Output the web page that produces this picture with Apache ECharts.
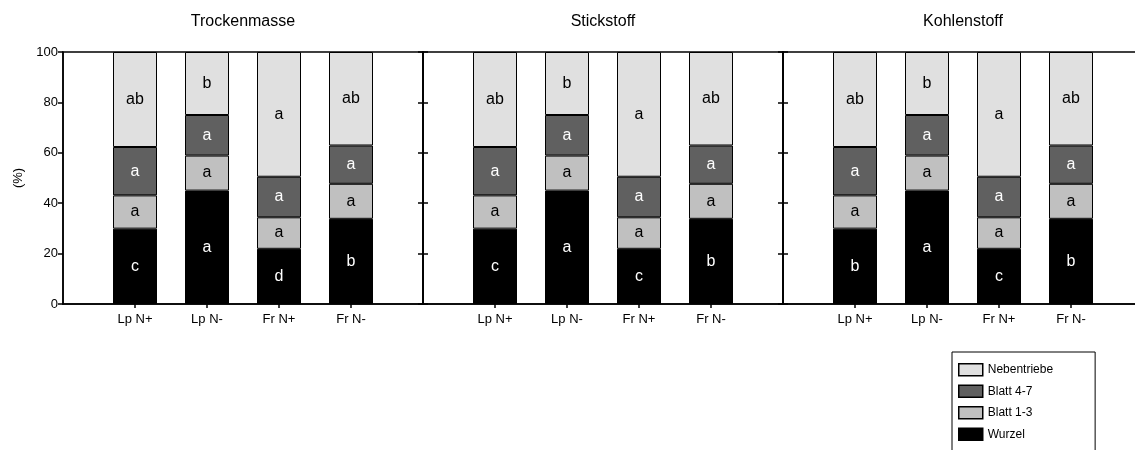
<!DOCTYPE html>
<html>
<head>
<meta charset="utf-8">
<script src="https://cdn.jsdelivr.net/npm/echarts@6/dist/echarts.min.js"></script>
<style>
  html, body { margin: 0; padding: 0; background: #fff; overflow: hidden; }
  /* the last panel and the legend frame run past the visible page edge */
  #chart { width: 1150px; height: 480px; }
</style>
</head>
<body>
<div id="chart"></div>
<script>
// Treatments shown in every panel
const categories = ['Lp N+', 'Lp N-', 'Fr N+', 'Fr N-'];
const panelTitles = ['Trockenmasse', 'Stickstoff', 'Kohlenstoff'];
const yTicks = [0, 20, 40, 60, 80, 100];

// Shares (%) per plant part — Trockenmasse
const tmWurzel  = [29.9, 45.0, 21.9, 33.8];
const tmBlatt13 = [13.2, 13.9, 12.5, 13.9];
const tmBlatt47 = [19.2, 16.1, 16.1, 15.2];
const tmNeben   = [37.7, 25.0, 49.5, 37.1];

// Shares (%) per plant part — Stickstoff
const nWurzel  = [29.9, 45.0, 21.9, 33.8];
const nBlatt13 = [13.2, 13.9, 12.5, 13.9];
const nBlatt47 = [19.2, 16.1, 16.1, 15.2];
const nNeben   = [37.7, 25.0, 49.5, 37.1];

// Shares (%) per plant part — Kohlenstoff
const cWurzel  = [29.9, 45.0, 21.9, 33.8];
const cBlatt13 = [13.2, 13.9, 12.5, 13.9];
const cBlatt47 = [19.2, 16.1, 16.1, 15.2];
const cNeben   = [37.7, 25.0, 49.5, 37.1];

// Significance letters
const tmWurzelSig  = ['c', 'a', 'd', 'b'];
const tmBlatt13Sig = ['a', 'a', 'a', 'a'];
const tmBlatt47Sig = ['a', 'a', 'a', 'a'];
const tmNebenSig   = ['ab', 'b', 'a', 'ab'];

const nWurzelSig  = ['c', 'a', 'c', 'b'];
const nBlatt13Sig = ['a', 'a', 'a', 'a'];
const nBlatt47Sig = ['a', 'a', 'a', 'a'];
const nNebenSig   = ['ab', 'b', 'a', 'ab'];

const cWurzelSig  = ['b', 'a', 'c', 'b'];
const cBlatt13Sig = ['a', 'a', 'a', 'a'];
const cBlatt47Sig = ['a', 'a', 'a', 'a'];
const cNebenSig   = ['ab', 'b', 'a', 'ab'];

const partNames = ['Wurzel', 'Blatt 1-3', 'Blatt 4-7', 'Nebentriebe'];
const partColors = ['#000000', '#c0c0c0', '#606060', '#e0e0e0'];
const partLabelColors = ['#ffffff', '#000000', '#ffffff', '#000000'];

const panels = [
  { values: [tmWurzel, tmBlatt13, tmBlatt47, tmNeben], sig: [tmWurzelSig, tmBlatt13Sig, tmBlatt47Sig, tmNebenSig] },
  { values: [nWurzel, nBlatt13, nBlatt47, nNeben], sig: [nWurzelSig, nBlatt13Sig, nBlatt47Sig, nNebenSig] },
  { values: [cWurzel, cBlatt13, cBlatt47, cNeben], sig: [cWurzelSig, cBlatt13Sig, cBlatt47Sig, cNebenSig] }
];

const FONT = 'Liberation Sans, Arial, sans-serif';
const PANEL_W = 360, PANEL_LEFT = 63, PANEL_TOP = 52, PANEL_H = 252;

// an empty slot on each side keeps the bars off the panel borders
const axisCats = [''].concat(categories, ['']);
const pad = arr => ['-'].concat(arr, ['-']);

const grids = [], xAxes = [], yAxes = [], series = [], titles = [];

panels.forEach((p, gi) => {
  const left = PANEL_LEFT + gi * PANEL_W;
  grids.push({
    left: left, top: PANEL_TOP, width: PANEL_W, height: PANEL_H,
    show: true, borderColor: '#000', borderWidth: 1.5, backgroundColor: 'transparent'
  });
  titles.push({
    text: panelTitles[gi], left: left + PANEL_W / 2, top: 14, textAlign: 'center', padding: 0,
    textStyle: { fontFamily: FONT, fontSize: 16, fontWeight: 'normal', color: '#000' }
  });
  xAxes.push({
    type: 'category', gridIndex: gi, data: axisCats, boundaryGap: false,
    axisLine: { lineStyle: { color: '#000', width: 1.5 } },
    axisTick: { length: 4, lineStyle: { color: '#000', width: 1.5 },
                interval: (i) => i >= 1 && i <= categories.length },
    axisLabel: { color: '#000', fontFamily: FONT, fontSize: 13, margin: 9 },
    splitLine: { show: false }
  });
  // outward ticks (with labels on the first panel only)
  yAxes.push({
    type: 'value', gridIndex: gi, min: yTicks[0], max: yTicks[yTicks.length - 1], interval: 20,
    name: gi === 0 ? '(%)' : '', nameLocation: 'middle', nameGap: 38, nameRotate: 90,
    nameTextStyle: { fontFamily: FONT, fontSize: 13, color: '#000' },
    axisLine: { show: true, lineStyle: { color: '#000', width: 1.5 } },
    axisTick: { show: true, length: 5, lineStyle: { color: '#000', width: 1.5 } },
    axisLabel: { show: gi === 0, color: '#000', fontFamily: FONT, fontSize: 13, margin: 5 },
    splitLine: { show: false }
  });
  series.push(...p.values.map((vals, si) => ({
    name: partNames[si], type: 'bar', stack: 'panel' + gi,
    xAxisIndex: gi, yAxisIndex: yAxes.length - 1,
    data: pad(vals), barWidth: 44,
    itemStyle: { color: partColors[si], borderColor: '#000', borderWidth: 1 },
    label: {
      show: true, position: 'inside', color: partLabelColors[si],
      fontFamily: FONT, fontSize: 16,
      formatter: (d) => p.sig[si][d.dataIndex - 1] || ''
    },
    emphasis: { disabled: true },
    animation: false
  })));
  if (gi > 0) {
    // inward ticks so the shared border shows crossing marks
    yAxes.push({
      type: 'value', gridIndex: gi, min: 0, max: 100, interval: 20, position: 'left',
      axisLine: { show: false },
      axisTick: { show: true, inside: true, length: 5, lineStyle: { color: '#000', width: 1.5 } },
      axisLabel: { show: false }, splitLine: { show: false }
    });
  }
});

const chart = echarts.init(document.getElementById('chart'), null, { renderer: 'canvas' });
chart.setOption({
  backgroundColor: '#fff',
  animation: false,
  title: titles,
  grid: grids,
  xAxis: xAxes,
  yAxis: yAxes,
  legend: {
    data: ['Nebentriebe', 'Blatt 4-7', 'Blatt 1-3', 'Wurzel'],
    orient: 'vertical', left: 952, top: 352,
    padding: [11, 42, 14, 6], itemGap: 8,
    itemWidth: 24, itemHeight: 12,
    icon: 'rect',
    borderColor: '#000', borderWidth: 1, backgroundColor: '#fff',
    itemStyle: { borderColor: '#000', borderWidth: 1.5 },
    textStyle: { fontFamily: FONT, fontSize: 12, color: '#000' },
    selectedMode: false
  },
  series: series
});
</script>
</body>
</html>
